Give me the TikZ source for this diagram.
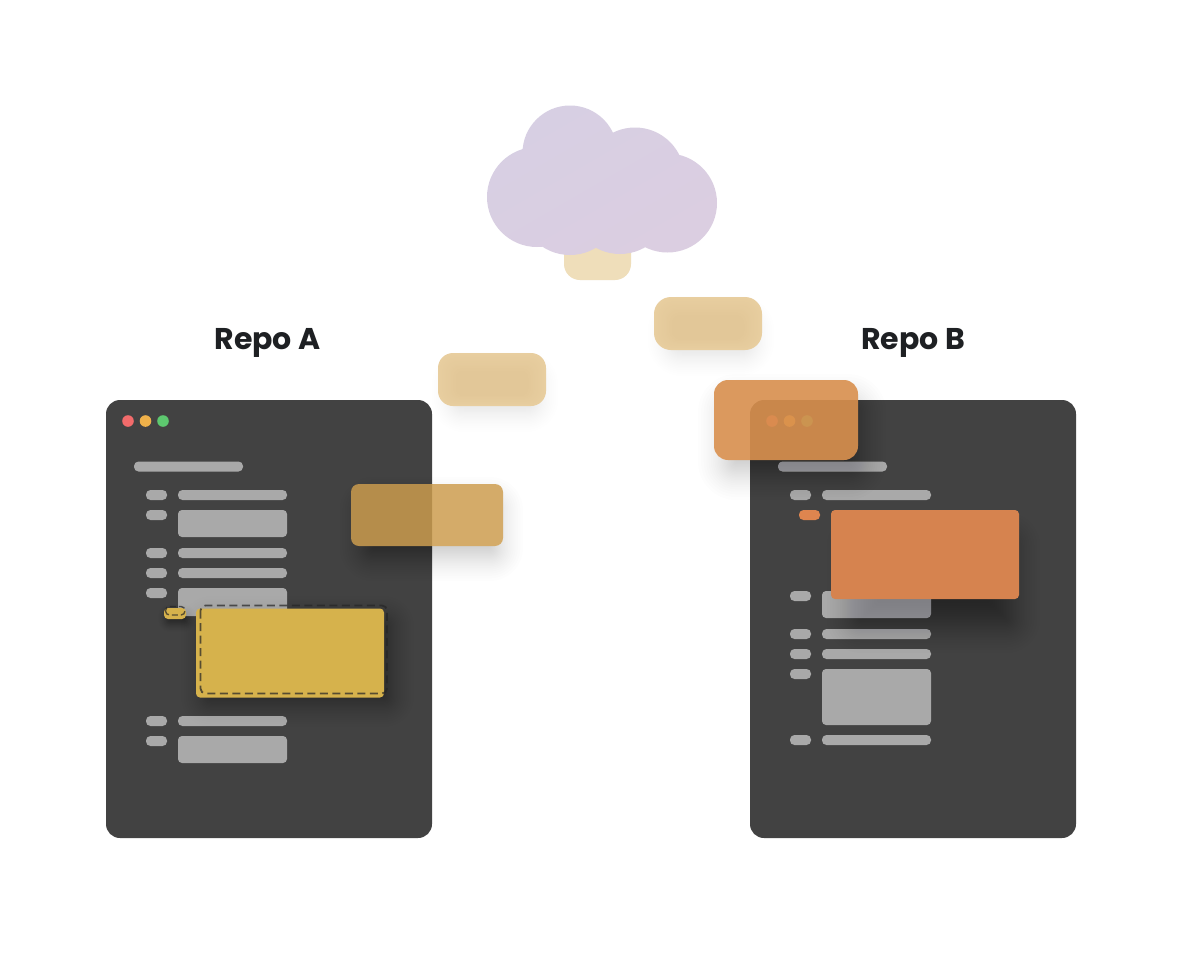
\documentclass[tikz,border=0pt]{standalone}
\usepackage{fontspec}
\setmainfont{Poppins}
\definecolor{winbg}{HTML}{424242}
\definecolor{barc}{HTML}{A9A9A9}
\definecolor{titlec}{HTML}{1E2023}
\definecolor{yellowc}{HTML}{D6B24C}
\definecolor{orangec}{HTML}{D6834F}
\definecolor{orangeo}{HTML}{D88F4D}
\definecolor{ochrec}{HTML}{CC9C4D}
\definecolor{beigeo}{HTML}{E8CEA0}
\definecolor{beigei}{HTML}{E2C798}
\definecolor{cloudl}{HTML}{D7CFE3}
\definecolor{cloudr}{HTML}{DBCEE1}
\definecolor{dashc}{HTML}{262626}
\definecolor{shadowc}{HTML}{10101A}
\tikzset{
  win/.style={fill=winbg,rounded corners=14},
  bar/.style={fill=barc,rounded corners=4.5},
  block/.style={fill=barc,rounded corners=4},
  dashbox/.style={draw=dashc,draw opacity=.72,line width=1.8,dash pattern=on 8 off 4.5,rounded corners=5},
  heading/.style={font=\fontsize{30}{36}\selectfont\bfseries,text=titlec,inner sep=0,anchor=base}
}
\newcommand{\softshadow}[7]{%
  \foreach \k in {0,...,29}{%
    \pgfmathsetmacro{\uu}{1-\k/14.5}%
    \pgfmathsetmacro{\ee}{#6*(.7*\uu+.3*\uu*\uu*\uu)}%
    \pgfmathsetmacro{\rr}{max(#5+\ee,1)}%
    \fill[shadowc,opacity=#7,rounded corners=\rr]
      ({#1-\ee},{#2-\ee}) rectangle ({#3+\ee},{#4+\ee});
  }%
}
% soft-edged beige pill: x1 y1 x2 y2 radius
\newcommand{\beigepill}[5]{%
  \foreach \k in {0,...,16}{%
    \pgfmathsetmacro{\pp}{\k*100/16}%
    \pgfmathsetmacro{\rr}{max(#5-\k*.5,4)}%
    \fill[fill=beigei!\pp!beigeo,rounded corners=\rr]
      ({#1+\k*1.2},{#2+\k*1.2}) rectangle ({#3-\k*1.2},{#4-\k*.7});
  }%
}
\newcommand{\windowrows}[1]{%
  \begin{scope}[shift={(#1,0)}]
    \fill[win] (106,400) rectangle (432,838);
    \fill[bar] (134,461.5) rectangle (243,471.5);
    \fill[bar] (146,490) rectangle (167,500);
    \fill[bar] (178,490) rectangle (287,500);
  \end{scope}%
}
\begin{document}
\begin{tikzpicture}[x=1pt,y=-1pt]
\useasboundingbox (0,0) rectangle (1200,967);
\fill[white] (0,0) rectangle (1200,967);

% ---- window A
\windowrows{0}
\fill[fill={rgb,255:red,242;green,107;blue,107}] (128,421) circle (5.8);
\fill[fill={rgb,255:red,239;green,177;blue,74}] (145.5,421) circle (5.8);
\fill[fill={rgb,255:red,93;green,200;blue,111}] (163,421) circle (5.8);
\fill[bar] (146,510) rectangle (167,520);
\fill[block] (178,510) rectangle (287,537);
\fill[bar] (146,548) rectangle (167,558);
\fill[bar] (178,548) rectangle (287,558);
\fill[bar] (146,568) rectangle (167,578);
\fill[bar] (178,568) rectangle (287,578);
\fill[bar] (146,588) rectangle (167,598);
\fill[block] (178,588) rectangle (287,616);
\fill[bar] (146,716) rectangle (167,726);
\fill[bar] (178,716) rectangle (287,726);
\fill[bar] (146,736) rectangle (167,746);
\fill[block] (178,736) rectangle (287,763);

% ---- window B
\windowrows{644}
\fill[fill={rgb,255:red,242;green,107;blue,107}] (772,421) circle (5.8);
\fill[fill={rgb,255:red,239;green,177;blue,74}] (789.5,421) circle (5.8);
\fill[fill={rgb,255:red,93;green,200;blue,111}] (807,421) circle (5.8);
\fill[bar] (790,591) rectangle (811,601);
\fill[block] (822,591) rectangle (931,618);
\fill[bar] (790,629) rectangle (811,639);
\fill[bar] (822,629) rectangle (931,639);
\fill[bar] (790,649) rectangle (811,659);
\fill[bar] (822,649) rectangle (931,659);
\fill[bar] (790,669) rectangle (811,679);
\fill[block] (822,669) rectangle (931,725);
\fill[bar] (790,735) rectangle (811,745);
\fill[bar] (822,735) rectangle (931,745);

% ---- headings
\node[heading] (repoA) at (267.5,349) {Repo A};
\node[heading] (repoB) at (913,349) {Repo B};

% ---- yellow change in window A
\softshadow{205}{620}{390}{703}{6}{24}{.0035}
\softshadow{166}{612}{188}{624}{4}{8}{.002}
\fill[fill=yellowc,rounded corners=4] (164,608) rectangle (186,619);
\fill[fill=yellowc,rounded corners=4] (196,608.5) rectangle (384,697.5);
\draw[dashbox,rounded corners=4,line width=1.4,dash pattern=on 6 off 3] (165.5,606.5) rectangle (185,615);
\draw[dashbox] (200.5,605.5) rectangle (387,693.5);

% ---- orange change in window B
\softshadow{855}{540}{1012}{625}{6}{28}{.0075}
\fill[fill={rgb,255:red,222;green,133;blue,79},rounded corners=4.5] (799,510) rectangle (820,520);
\fill[fill=orangec,rounded corners=4] (831,510) rectangle (1019,599);

% ---- moving ochre box
\begin{scope}[even odd rule,rounded corners=8]
  \clip (-50,-50) rectangle (1250,1017) (351,484) rectangle (503,546);
  \softshadow{365}{502}{498}{556}{8}{25}{.006}
\end{scope}
\fill[fill=ochrec,fill opacity=.84,rounded corners=8] (351,484) rectangle (503,546);

% ---- translucent orange box
\begin{scope}[even odd rule,rounded corners=14]
  \clip (-50,-50) rectangle (1250,1017) (714,380) rectangle (858,460);
  \softshadow{726}{402}{858}{472}{10}{28}{.008}
\end{scope}
\fill[fill=orangeo,fill opacity=.9,rounded corners=14] (714,380) rectangle (858,460);

% ---- beige boxes
\softshadow{452}{372}{538}{412}{12}{20}{.003}
\softshadow{668}{316}{754}{356}{14}{20}{.003}
\softshadow{574}{255}{624}{284}{14}{12}{.0012}
\beigepill{438}{353}{546}{406}{15}
\beigepill{654}{297}{762}{350}{17}
\fill[fill={rgb,255:red,239;green,222;blue,186},rounded corners=16] (564,230) rectangle (631,280);

% ---- cloud
\shade[shading=axis,top color=cloudl,bottom color=cloudr,shading angle=30]
  (537,197) circle (50) (570,153) circle (47.5) (635,177) circle (49.5)
  (667.5,203) circle (49.5) (570,205) circle (50) (620,204) circle (50)
  (600,190) circle (50);
\end{tikzpicture}
\end{document}
